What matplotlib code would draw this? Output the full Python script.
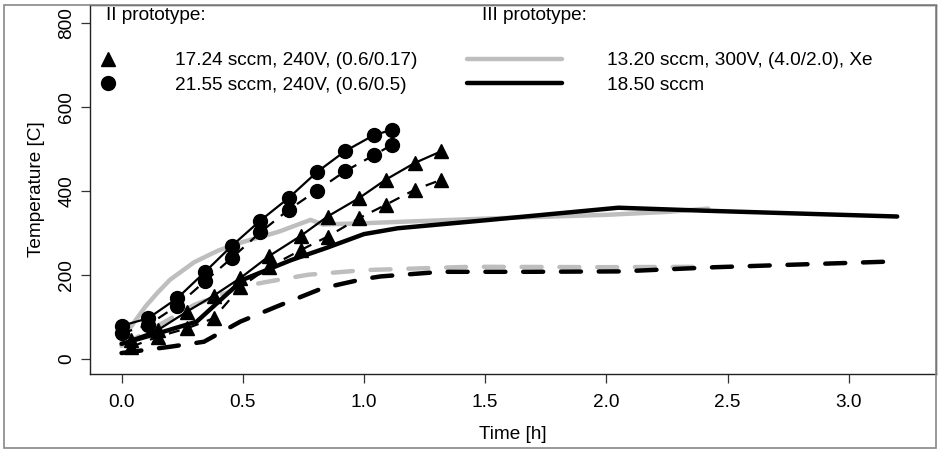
import matplotlib
matplotlib.use("Agg")
import matplotlib.pyplot as plt
from matplotlib.lines import Line2D
from matplotlib.patches import Rectangle

plt.rcParams['font.family'] = ['Liberation Sans', 'DejaVu Sans']

# ---- data ----
t_tri = [0.04, 0.15, 0.27, 0.38, 0.49, 0.61, 0.74, 0.85, 0.98, 1.09, 1.21, 1.32]
tri_solid = [45, 68, 112, 150, 192, 245, 293, 339, 383, 427, 467, 495]
tri_dashed = [28, 52, 72, 96, 170, 219, 259, 291, 335, 367, 403, 427]

t_circ = [0.0, 0.11, 0.23, 0.345, 0.455, 0.572, 0.689, 0.806, 0.922, 1.04, 1.115]
circ_solid = [78, 96, 144, 207, 269, 329, 383, 445, 495, 533, 546]
circ_dashed = [60, 80, 126, 185, 240, 301, 355, 401, 447, 485, 510]

t_xe_solid = [0.0, 0.05, 0.1, 0.15, 0.2, 0.3, 0.4, 0.5, 0.65, 0.78, 0.83, 1.0, 1.5, 2.0, 2.25, 2.42]
xe_solid = [42, 85, 125, 158, 188, 230, 258, 278, 303, 331, 320, 323, 334, 343, 350, 358]
t_xe_dashed = [0.0, 0.15, 0.3, 0.5, 0.6, 0.77, 1.0, 1.44, 2.0, 2.42]
xe_dashed = [30, 78, 128, 172, 183, 200, 211, 219, 218, 219]

t_k_solid = [0.0, 0.15, 0.31, 0.5, 0.7, 0.85, 1.0, 1.14, 1.5, 2.05, 2.4, 2.8, 3.2]
k_solid = [35, 60, 88, 188, 235, 265, 297, 311, 330, 360, 353, 346, 339]
t_k_dashed = [0.0, 0.2, 0.34, 0.49, 0.64, 0.83, 1.0, 1.07, 1.32, 1.67, 2.06, 2.45, 3.2]
k_dashed = [13, 28, 40, 88, 124, 168, 190, 196, 207, 207, 208, 218, 232]

x_ticks = [0.0, 0.5, 1.0, 1.5, 2.0, 2.5, 3.0]
x_ticklabels = ["0.0", "0.5", "1.0", "1.5", "2.0", "2.5", "3.0"]
y_ticks = [0, 200, 400, 600, 800]

legend2_labels = ["17.24 sccm, 240V, (0.6/0.17)", "21.55 sccm, 240V, (0.6/0.5)"]
legend3_labels = ["13.20 sccm, 300V, (4.0/2.0), Xe", "18.50 sccm"]

GRAY = "#BEBEBE"
FS = 13.7
W, H = 938, 450

fig = plt.figure(figsize=(W / 100, H / 100), dpi=100)
ax = fig.add_axes([90 / W, (H - 374) / H, (936 - 90) / W, (374 - 5) / H])

thick = 3.2
dash_thick = (0, (4.5, 4))
dash_thin = (0, (5, 4))

ax.plot(t_xe_solid, xe_solid, color=GRAY, lw=thick, solid_capstyle='round',
        solid_joinstyle='round', zorder=2)
ax.plot(t_xe_dashed, xe_dashed, color=GRAY, lw=thick, ls=dash_thick,
        dash_capstyle='round', zorder=2)
ax.plot(t_k_solid, k_solid, color='black', lw=thick, solid_capstyle='round',
        solid_joinstyle='round', zorder=3)
ax.plot(t_k_dashed, k_dashed, color='black', lw=thick, ls=dash_thick,
        dash_capstyle='round', zorder=3)

ms = 10
ax.plot(t_tri, tri_solid, color='black', lw=1.6, marker='^', ms=ms, zorder=4)
ax.plot(t_tri, tri_dashed, color='black', lw=1.6, ls=dash_thin, marker='^', ms=ms, zorder=4)
ax.plot(t_circ, circ_solid, color='black', lw=1.6, marker='o', ms=ms, zorder=4)
ax.plot(t_circ, circ_dashed, color='black', lw=1.6, ls=dash_thin, marker='o', ms=ms, zorder=4)

ax.set_xlim(-0.13, 3.36)
ax.set_ylim(-37, 844)
ax.set_xticks(x_ticks)
ax.set_xticklabels(x_ticklabels)
ax.set_yticks(y_ticks)
ax.set_yticklabels([str(v) for v in y_ticks], rotation=90, va='center')
ax.tick_params(axis='both', direction='out', length=6.5, width=0.9, labelsize=FS,
               color='#333333')
ax.tick_params(axis='x', pad=8)
ax.tick_params(axis='y', pad=4)
for s in ax.spines.values():
    s.set_linewidth(1.0)
    s.set_color('#222222')

ax.set_xlabel("Time [h]", fontsize=FS, labelpad=11)
ax.set_ylabel("Temperature [C]", fontsize=FS, labelpad=10)

# legend titles
fig.text(106 / W, 1 - 16 / H, "II prototype:", fontsize=FS, va='center', ha='left')
fig.text(482 / W, 1 - 16 / H, "III prototype:", fontsize=FS, va='center', ha='left')

h2 = [Line2D([], [], color='black', marker='^', ms=ms, ls='none'),
      Line2D([], [], color='black', marker='o', ms=ms, ls='none')]
leg1 = ax.legend(h2, legend2_labels, loc='upper left',
                 bbox_to_anchor=(89 / W, 1 - 52 / H), bbox_transform=fig.transFigure,
                 frameon=False, fontsize=FS, handlelength=2.0, handletextpad=2.5,
                 labelspacing=0.38, borderpad=0, borderaxespad=0)
ax.add_artist(leg1)

h3 = [Line2D([], [], color=GRAY, lw=thick, solid_capstyle='round'),
      Line2D([], [], color='black', lw=thick, solid_capstyle='round')]
leg2 = ax.legend(h3, legend3_labels, loc='upper left',
                 bbox_to_anchor=(467 / W, 1 - 52 / H), bbox_transform=fig.transFigure,
                 frameon=False, fontsize=FS, handlelength=5.0, handletextpad=2.37,
                 labelspacing=0.38, borderpad=0, borderaxespad=0)

# figure border
fig.patches.append(Rectangle((4 / W, 2 / H), (936 - 4) / W, (H - 5 - 2) / H,
                             transform=fig.transFigure, fill=False,
                             edgecolor='#888888', lw=1.2, zorder=0))

fig.savefig("out.png", dpi=100)
